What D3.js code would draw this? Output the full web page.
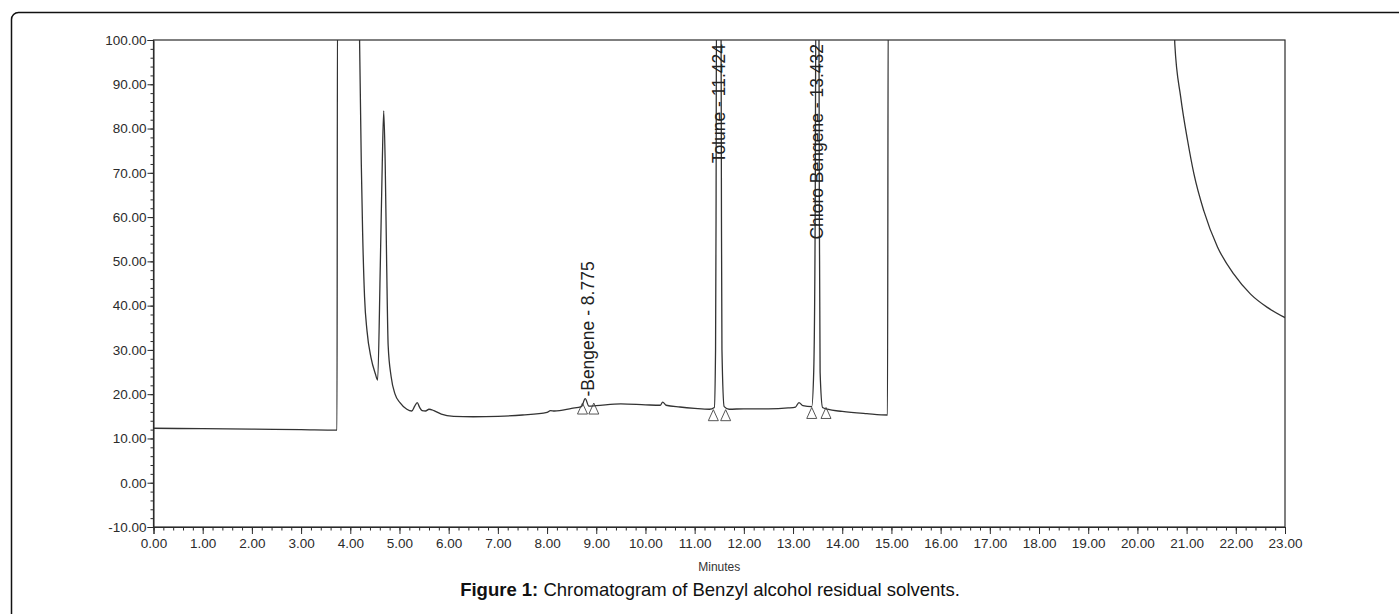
<!DOCTYPE html>
<html>
<head>
<meta charset="utf-8">
<script src="https://cdn.jsdelivr.net/npm/d3@7/dist/d3.min.js"></script>
<style>
  body { margin: 0; background: #fff; }
  svg { display: block; font-family: "Liberation Sans", Arial, sans-serif; }
  .axis text { font-size: 13.5px; fill: #2b2b2b; }
  .axis path, .axis line { stroke: #2b2b2b; }
</style>
</head>
<body>
<div id="chart"></div>
<script>
/* chromatogram of benzyl alcohol residual solvents, drawn with d3 */

var WIDTH  = 1399,
    HEIGHT = 614;

// plot box in pixels
var PLOT = { left : 153.5, right : 1285, top : 40, bottom : 527 };

// axis ticks
var xTicks = d3.range(0, 24, 1);
var yTicks = [-10, 0, 10, 20, 30, 40, 50, 60, 70, 80, 90, 100];

// detector signal (minutes, mV); values above 100 are off scale
var signalTime = [
    0, 1, 2, 3, 3.73, 3.74, 4.18, 4.19, 4.224, 4.25, 4.29, 4.34, 4.42, 4.51, 4.556,
    4.61, 4.65, 4.68, 4.71, 4.74, 4.77, 4.83, 4.91, 5.01, 5.15, 5.25, 5.31, 5.36, 5.41,
    5.46, 5.53, 5.6, 5.7, 5.85, 6.1, 6.5, 7.0, 7.5, 8.0, 8.07, 8.15, 8.5, 8.7, 8.775,
    8.85, 9.0, 9.5, 10.0, 10.3, 10.35, 10.42, 10.7, 11.0, 11.3, 11.4, 11.425, 11.435,
    11.445, 11.535, 11.545, 11.555, 11.6, 11.7, 12.0, 12.5, 12.9, 13.05, 13.12, 13.2,
    13.38, 13.42, 13.45, 13.465, 13.525, 13.535, 13.55, 13.6, 13.7, 14.0, 14.5, 14.92,
    14.935, 20.74, 20.76, 20.88, 21.02, 21.15, 21.35, 21.63, 21.96, 22.3, 22.64, 23.0
];
var signalValue = [
    12.3, 12.2, 12.1, 12.0, 11.9, 110, 110, 99, 72, 57, 42, 34.3, 28.3, 24.6, 23.2,
    49, 72, 84, 72, 49, 31, 24, 20, 18.1, 16.6, 16.2, 17.3, 18.1, 17.0,
    16.3, 16.2, 16.6, 16.3, 15.5, 15.0, 14.9, 15.0, 15.3, 15.9, 16.3, 16.2, 16.8, 17.2, 19.0,
    17.3, 17.4, 17.8, 17.6, 17.5, 18.2, 17.5, 17.1, 16.8, 16.6, 17.0, 30, 60,
    110, 110, 60, 30, 17.2, 16.6, 16.7, 16.7, 16.9, 17.1, 18.1, 17.4,
    17.2, 25, 60, 110, 110, 60, 25, 17.0, 16.6, 16.1, 15.6, 15.3,
    110, 110, 99.1, 87.1, 77.3, 69.7, 61.4, 53.2, 47.1, 42.6, 39.6, 37.3
];

// named peaks
var peakNames  = ['Bengene', 'Tolune', 'Chloro Bengene'];
var peakTimes  = [8.775, 11.424, 13.432];
var peakApex   = [19.0, 110, 110];

// integration start / end markers
var markerTimes  = [8.72, 8.95, 11.38, 11.63, 13.38, 13.67];
var markerValues = [18.0, 18.0, 16.5, 16.5, 17.0, 17.0];

var x = d3.scaleLinear().domain([0, 23]).range([PLOT.left, PLOT.right]);
var y = d3.scaleLinear().domain([-10, 100]).range([PLOT.bottom, PLOT.top]);

var svg = d3.select('#chart')
            .append('svg')
            .attr('width', WIDTH)
            .attr('height', HEIGHT);

// outer rounded frame of the figure, runs off the right and bottom edges
svg.append('rect')
    .attr('x', 11.5)
    .attr('y', 12.5)
    .attr('width', WIDTH)
    .attr('height', HEIGHT)
    .attr('rx', 7)
    .attr('fill', 'none')
    .attr('stroke', '#111')
    .attr('stroke-width', 1.5);

svg.append('clipPath')
    .attr('id', 'plot-clip')
    .append('rect')
    .attr('x', PLOT.left)
    .attr('y', PLOT.top)
    .attr('width', PLOT.right - PLOT.left)
    .attr('height', PLOT.bottom - PLOT.top);

// minor ticks first so the major ones sit on top
svg.append('g')
    .attr('class', 'axis')
    .attr('transform', 'translate(0,' + PLOT.bottom + ')')
    .call(d3.axisBottom(x).tickValues(d3.range(0, 23.01, 0.2)).tickSize(3.5).tickFormat(''))
    .call(function(g) { g.select('.domain').remove(); });

svg.append('g')
    .attr('class', 'axis')
    .attr('transform', 'translate(' + PLOT.left + ',0)')
    .call(d3.axisLeft(y).tickValues(d3.range(-10, 100.01, 2)).tickSize(3).tickFormat(''))
    .call(function(g) { g.select('.domain').remove(); });

// major axes
svg.append('g')
    .attr('class', 'axis')
    .attr('transform', 'translate(0,' + PLOT.bottom + ')')
    .call(d3.axisBottom(x).tickValues(xTicks).tickSize(7).tickPadding(4.5)
            .tickFormat(function(d) { return d.toFixed(2); }));

svg.append('g')
    .attr('class', 'axis')
    .attr('transform', 'translate(' + PLOT.left + ',0)')
    .call(d3.axisLeft(y).tickValues(yTicks).tickSize(6).tickPadding(1)
            .tickFormat(function(d) { return d.toFixed(2); }));

// box round the plot
svg.append('rect')
    .attr('x', PLOT.left)
    .attr('y', PLOT.top)
    .attr('width', PLOT.right - PLOT.left)
    .attr('height', PLOT.bottom - PLOT.top)
    .attr('fill', 'none')
    .attr('stroke', '#2b2b2b')
    .attr('stroke-width', 1.2);

// the trace
var line = d3.line()
             .x(function(d) { return x(d[0]); })
             .y(function(d) { return y(d[1]); })
             .curve(d3.curveMonotoneX);

svg.append('path')
    .datum(d3.zip(signalTime, signalValue))
    .attr('clip-path', 'url(#plot-clip)')
    .attr('d', line)
    .attr('fill', 'none')
    .attr('stroke', '#333')
    .attr('stroke-width', 1.3);

// baseline markers (open triangles)
svg.selectAll('path.marker')
    .data(d3.zip(markerTimes, markerValues))
    .enter()
    .append('path')
    .attr('class', 'marker')
    .attr('d', function(d) {
        var cx = x(d[0]), cy = y(d[1]);
        return 'M' + cx + ',' + cy + 'L' + (cx + 5) + ',' + (cy + 11) +
               'L' + (cx - 5) + ',' + (cy + 11) + 'Z';
    })
    .attr('fill', 'none')
    .attr('stroke', '#444')
    .attr('stroke-width', 0.9);

// peak labels, rotated to read upwards
svg.selectAll('text.peak')
    .data(d3.range(peakNames.length))
    .enter()
    .append('text')
    .attr('class', 'peak')
    .attr('transform', function(i) {
        var offScale = peakApex[i] > 100;
        var ty = offScale ? PLOT.top + 4 : y(peakApex[i]) - 2;
        return 'translate(' + (x(peakTimes[i]) + 9) + ',' + ty + ') rotate(-90)';
    })
    .attr('text-anchor', function(i) { return peakApex[i] > 100 ? 'end' : 'start'; })
    .attr('font-size', 17.5)
    .attr('fill', '#222')
    .text(function(i) {
        return (peakApex[i] > 100 ? '' : '-') + peakNames[i] + ' - ' + peakTimes[i].toFixed(3);
    });

// axis title
svg.append('text')
    .attr('x', (PLOT.left + PLOT.right) / 2)
    .attr('y', 571)
    .attr('text-anchor', 'middle')
    .attr('font-size', 12)
    .attr('fill', '#333')
    .text('Minutes');

// figure caption
var caption = svg.append('text')
                 .attr('x', 710)
                 .attr('y', 596)
                 .attr('text-anchor', 'middle')
                 .attr('font-size', 18.5)
                 .attr('fill', '#111');
caption.append('tspan').attr('font-weight', 'bold').text('Figure 1:');
caption.append('tspan').text(' Chromatogram of Benzyl alcohol residual solvents.');
</script>
</body>
</html>
